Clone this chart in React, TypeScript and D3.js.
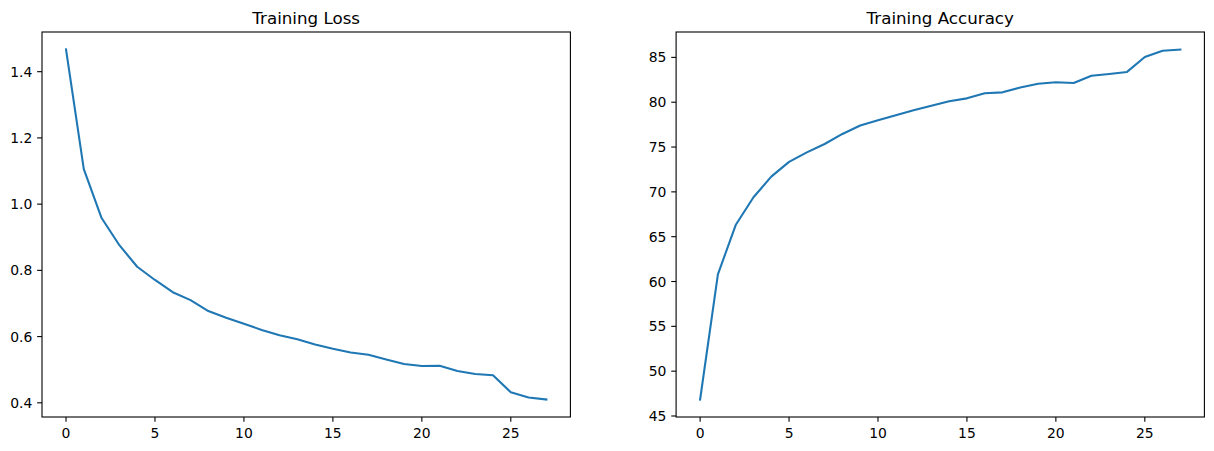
import React from "react";
import * as d3 from "d3";

const epochs: number[] = Array.from({ length: 28 }, (_, i) => i);
const lossValues: number[] = [
  1.467, 1.106, 0.958, 0.876, 0.811, 0.771, 0.734, 0.71, 0.677, 0.657, 0.639,
  0.62, 0.604, 0.592, 0.576, 0.563, 0.552, 0.545, 0.531, 0.517, 0.511, 0.512,
  0.496, 0.487, 0.483, 0.432, 0.416, 0.41,
];
const accValues: number[] = [
  46.84, 60.8, 66.3, 69.4, 71.7, 73.34, 74.4, 75.34, 76.46, 77.4, 77.98, 78.55,
  79.1, 79.6, 80.1, 80.43, 81.0, 81.1, 81.65, 82.05, 82.22, 82.15, 82.95, 83.15,
  83.38, 85.05, 85.75, 85.88,
];
const xTicks: number[] = [0, 5, 10, 15, 20, 25];
const lossTicks: number[] = [0.4, 0.6, 0.8, 1.0, 1.2, 1.4];
const accTicks: number[] = [45, 50, 55, 60, 65, 70, 75, 80, 85];
const titles: string[] = ["Training Loss", "Training Accuracy"];

const W = 1214;
const H = 451;
const TOP = 32;
const BOTTOM = 417;
const FONT = "DejaVu Sans, sans-serif";
const TICK = 4.86;
const PAD = 4.86;

function pad(vals: number[]): [number, number] {
  const mn = d3.min(vals) as number;
  const mx = d3.max(vals) as number;
  const r = mx - mn;
  return [mn - 0.05 * r, mx + 0.05 * r];
}

function Panel(props: {
  left: number;
  right: number;
  values: number[];
  yTicks: number[];
  fmt: (v: number) => string;
  title: string;
}) {
  const { left, right, values, yTicks, fmt, title } = props;
  const x = d3.scaleLinear().domain(pad(epochs)).range([left, right]);
  const y = d3.scaleLinear().domain(pad(values)).range([BOTTOM, TOP]);
  const line = d3
    .line<number>()
    .x((_, i) => x(epochs[i]))
    .y((d) => y(d));
  return (
    <g>
      <text
        x={(left + right) / 2}
        y={TOP - 8.33}
        textAnchor="middle"
        fontFamily={FONT}
        fontSize={16.7}
        fill="#000"
      >
        {title}
      </text>
      <path
        d={line(values) as string}
        fill="none"
        stroke="#1f77b4"
        strokeWidth={2.08}
        strokeLinejoin="round"
        strokeLinecap="square"
      />
      <rect
        x={left}
        y={TOP}
        width={right - left}
        height={BOTTOM - TOP}
        fill="none"
        stroke="#000"
        strokeWidth={1.1}
      />
      {xTicks.map((t) => (
        <g key={"x" + t}>
          <line
            x1={x(t)}
            x2={x(t)}
            y1={BOTTOM}
            y2={BOTTOM + TICK}
            stroke="#000"
            strokeWidth={1.1}
          />
          <text
            x={x(t)}
            y={BOTTOM + TICK + PAD + 10.8}
            textAnchor="middle"
            fontFamily={FONT}
            fontSize={13.9}
            fill="#000"
          >
            {String(t)}
          </text>
        </g>
      ))}
      {yTicks.map((t) => (
        <g key={"y" + t}>
          <line
            x1={left - TICK}
            x2={left}
            y1={y(t)}
            y2={y(t)}
            stroke="#000"
            strokeWidth={1.1}
          />
          <text
            x={left - TICK - PAD}
            y={y(t) + 5}
            textAnchor="end"
            fontFamily={FONT}
            fontSize={13.9}
            fill="#000"
          >
            {fmt(t)}
          </text>
        </g>
      ))}
    </g>
  );
}

export default function App() {
  return (
    <svg
      width={W}
      height={H}
      style={{ position: "absolute", left: 0, top: 0, background: "#fff" }}
    >
      <rect x={0} y={0} width={W} height={H} fill="#fff" />
      <Panel
        left={42}
        right={570.4}
        values={lossValues}
        yTicks={lossTicks}
        fmt={(v) => v.toFixed(1)}
        title={titles[0]}
      />
      <Panel
        left={676.1}
        right={1204.4}
        values={accValues}
        yTicks={accTicks}
        fmt={(v) => String(v)}
        title={titles[1]}
      />
    </svg>
  );
}
